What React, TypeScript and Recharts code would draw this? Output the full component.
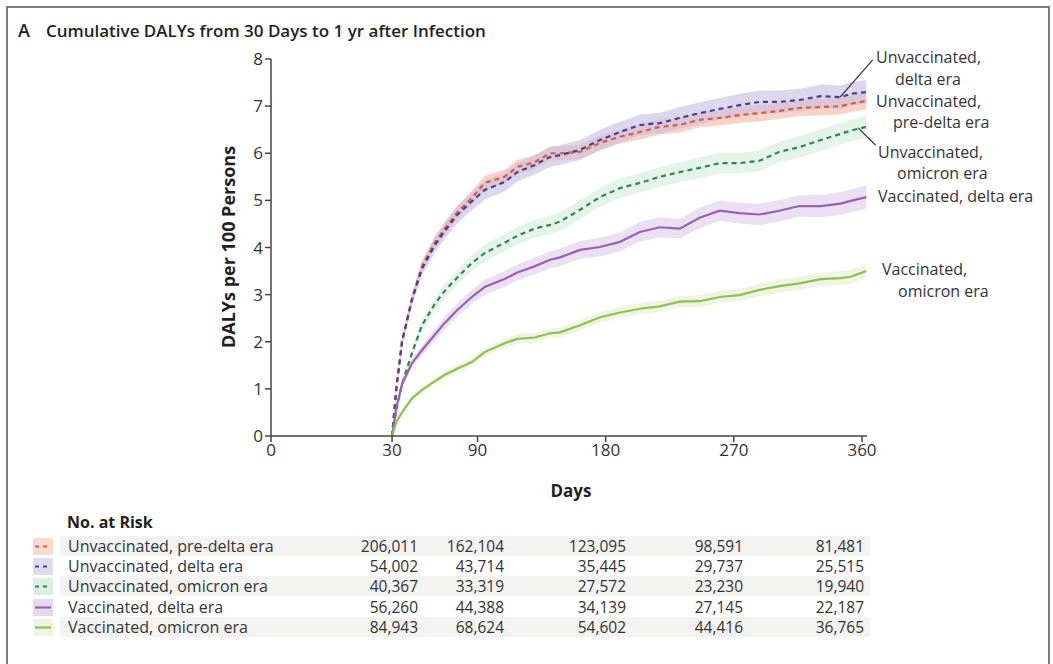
import { ComposedChart, Line, Area, XAxis, YAxis, ReferenceLine } from "recharts";

const DAYS = [30, 33, 37, 44, 51, 60, 67, 76, 86, 95, 109, 118, 130, 141, 148, 162, 176, 190, 204, 218, 232, 246, 260, 274, 288, 302, 316, 331, 345, 352, 363];

const UNVAX_PRE_DELTA = [0, 1.0, 2.0, 2.9, 3.6, 4.1, 4.4, 4.75, 5.05, 5.37, 5.5, 5.71, 5.81, 6.0, 6.0, 6.03, 6.22, 6.35, 6.45, 6.56, 6.6, 6.71, 6.75, 6.81, 6.85, 6.9, 6.96, 6.98, 7.0, 7.05, 7.11];
const UNVAX_PRE_DELTA_CI = [0, 0.05, 0.08, 0.1, 0.12, 0.13, 0.14, 0.14, 0.15, 0.15, 0.15, 0.15, 0.15, 0.15, 0.15, 0.15, 0.15, 0.15, 0.16, 0.16, 0.16, 0.16, 0.16, 0.17, 0.17, 0.17, 0.17, 0.18, 0.18, 0.18, 0.18];

const UNVAX_DELTA = [0, 1.0, 2.0, 2.9, 3.55, 4.05, 4.35, 4.7, 4.98, 5.22, 5.39, 5.6, 5.75, 5.92, 5.96, 6.07, 6.28, 6.45, 6.6, 6.64, 6.75, 6.85, 6.94, 7.02, 7.09, 7.09, 7.13, 7.21, 7.19, 7.26, 7.3];
const UNVAX_DELTA_CI = [0, 0.06, 0.1, 0.13, 0.15, 0.16, 0.17, 0.18, 0.19, 0.2, 0.2, 0.2, 0.2, 0.21, 0.21, 0.21, 0.22, 0.22, 0.22, 0.22, 0.23, 0.23, 0.23, 0.24, 0.24, 0.24, 0.24, 0.25, 0.25, 0.25, 0.25];

const UNVAX_OMICRON = [0, 0.55, 1.1, 1.76, 2.35, 2.8, 3.08, 3.37, 3.67, 3.88, 4.1, 4.25, 4.4, 4.48, 4.55, 4.8, 5.07, 5.26, 5.37, 5.5, 5.6, 5.69, 5.79, 5.79, 5.84, 6.03, 6.13, 6.28, 6.41, 6.48, 6.56];
const UNVAX_OMICRON_CI = [0, 0.05, 0.08, 0.1, 0.12, 0.14, 0.15, 0.16, 0.17, 0.18, 0.18, 0.19, 0.19, 0.2, 0.2, 0.2, 0.2, 0.21, 0.21, 0.21, 0.21, 0.22, 0.22, 0.22, 0.22, 0.22, 0.23, 0.23, 0.23, 0.23, 0.23];

const VAX_DELTA = [0, 0.6, 1.1, 1.55, 1.82, 2.15, 2.4, 2.68, 2.95, 3.16, 3.33, 3.47, 3.6, 3.74, 3.79, 3.95, 4.01, 4.12, 4.33, 4.43, 4.4, 4.63, 4.78, 4.73, 4.7, 4.78, 4.88, 4.88, 4.93, 4.99, 5.07];
const VAX_DELTA_CI = [0, 0.05, 0.07, 0.09, 0.1, 0.12, 0.13, 0.14, 0.15, 0.16, 0.17, 0.17, 0.18, 0.18, 0.19, 0.19, 0.2, 0.2, 0.21, 0.21, 0.21, 0.22, 0.22, 0.22, 0.23, 0.23, 0.23, 0.24, 0.24, 0.24, 0.25];

const VAX_OMICRON = [0, 0.3, 0.5, 0.8, 0.98, 1.16, 1.3, 1.43, 1.57, 1.78, 1.97, 2.06, 2.09, 2.18, 2.2, 2.35, 2.52, 2.62, 2.7, 2.75, 2.85, 2.86, 2.95, 2.99, 3.1, 3.18, 3.24, 3.33, 3.35, 3.38, 3.5];
const VAX_OMICRON_CI = [0, 0.03, 0.04, 0.05, 0.06, 0.07, 0.07, 0.08, 0.08, 0.09, 0.09, 0.1, 0.1, 0.1, 0.11, 0.11, 0.11, 0.12, 0.12, 0.12, 0.12, 0.13, 0.13, 0.13, 0.13, 0.14, 0.14, 0.14, 0.15, 0.15, 0.15];

const X_TICKS = [0, 30, 90, 180, 270, 360];
const Y_TICKS = [0, 1, 2, 3, 4, 5, 6, 7, 8];

const RISK_DAYS = [30, 90, 180, 270, 360];
const RISK_PRE_DELTA = ["206,011", "162,104", "123,095", "98,591", "81,481"];
const RISK_DELTA = ["54,002", "43,714", "35,445", "29,737", "25,515"];
const RISK_OMICRON = ["40,367", "33,319", "27,572", "23,230", "19,940"];
const RISK_VAX_DELTA = ["56,260", "44,388", "34,139", "27,145", "22,187"];
const RISK_VAX_OMICRON = ["84,943", "68,624", "54,602", "44,416", "36,765"];

const SERIES = [
  { key: "preDelta", name: "Unvaccinated, pre-delta era", values: UNVAX_PRE_DELTA, ci: UNVAX_PRE_DELTA_CI, risk: RISK_PRE_DELTA, color: "#de5a36", band: "#f3b7a2", swatch: "#fadbd0", dashed: true },
  { key: "delta", name: "Unvaccinated, delta era", values: UNVAX_DELTA, ci: UNVAX_DELTA_CI, risk: RISK_DELTA, color: "#4a3d95", band: "#c6bde3", swatch: "#e0dcf0", dashed: true },
  { key: "omicron", name: "Unvaccinated, omicron era", values: UNVAX_OMICRON, ci: UNVAX_OMICRON_CI, risk: RISK_OMICRON, color: "#2f8655", band: "#d3ecd8", swatch: "#ddefe1", dashed: true },
  { key: "vaxDelta", name: "Vaccinated, delta era", values: VAX_DELTA, ci: VAX_DELTA_CI, risk: RISK_VAX_DELTA, color: "#9a60b4", band: "#dccbea", swatch: "#e6d8f0", dashed: false },
  { key: "vaxOmicron", name: "Vaccinated, omicron era", values: VAX_OMICRON, ci: VAX_OMICRON_CI, risk: RISK_VAX_OMICRON, color: "#8cc24e", band: "#e3efd0", swatch: "#eef5e3", dashed: false },
];

// right-hand curve labels (text lines, x/y in page pixels)
const CURVE_LABELS = [
  { text: "Unvaccinated,", x: 876, y: 57 },
  { text: "delta era", x: 895, y: 79 },
  { text: "Unvaccinated,", x: 876, y: 101 },
  { text: "pre-delta era", x: 893, y: 122 },
  { text: "Unvaccinated,", x: 878, y: 152 },
  { text: "omicron era", x: 897, y: 173 },
  { text: "Vaccinated, delta era", x: 878, y: 196 },
  { text: "Vaccinated,", x: 882, y: 269 },
  { text: "omicron era", x: 898, y: 291 },
];

// 0 to 30 days is drawn on a compressed stretch of axis
const axisPos = (day: number) => (day >= 30 ? day : -55 + (day * 85) / 30);

const FONT = "'Open Sans', Lato, sans-serif";

const chartData = DAYS.map((day, i) => {
  const row: Record<string, any> = { pos: axisPos(day) };
  SERIES.forEach((s) => {
    row[s.key] = s.values[i];
    row[s.key + "Band"] = [s.values[i] - s.ci[i], s.values[i] + s.ci[i]];
  });
  return row;
});

function Swatch({ color, bg, dashed }: { color: string; bg: string; dashed: boolean }) {
  return (
    <svg width={20} height={17} style={{ position: "absolute", left: 33, top: -8 }}>
      <rect x={0} y={0} width={20} height={17} fill={bg} />
      <line x1={2} x2={18} y1={8.5} y2={8.5} stroke={color} strokeWidth={2.2} strokeDasharray={dashed ? "4 4" : undefined} />
    </svg>
  );
}

export default function App() {
  return (
    <div style={{ position: "fixed", left: 0, top: 0, width: 1053, height: 664, overflow: "hidden", background: "#fff", fontFamily: FONT, color: "#231f20" }}>
      <div style={{ position: "absolute", left: 6, top: 6, width: 1040, height: 700, border: "2px solid #7d7d7d" }} />

      <div style={{ position: "absolute", left: 18, top: 30, transform: "translateY(-50%)", fontSize: 17, fontWeight: 600, whiteSpace: "nowrap" }}>
        <span style={{ fontSize: 18, marginRight: 16 }}>A</span>
        <span>Cumulative DALYs from 30 Days to 1 yr after Infection</span>
      </div>

      <div style={{ position: "absolute", left: 0, top: 0 }}>
        <ComposedChart width={1053} height={500} data={chartData} margin={{ top: 59, right: 186, bottom: 34, left: 211 }}>
          <XAxis
            type="number"
            dataKey="pos"
            domain={[axisPos(0), 363.5]}
            ticks={X_TICKS.map(axisPos)}
            tickFormatter={(v: number) => String(X_TICKS.find((d) => Math.abs(axisPos(d) - v) < 0.01) ?? v)}
            height={30}
            tickSize={6}
            tick={{ fontSize: 17, fill: "#333", fontFamily: FONT }}
            axisLine={{ stroke: "#444", strokeWidth: 1.5 }}
            tickLine={{ stroke: "#444", strokeWidth: 1.5 }}
            allowDataOverflow
          />
          <YAxis
            type="number"
            domain={[0, 8]}
            ticks={Y_TICKS}
            width={60}
            tickSize={6}
            tick={{ fontSize: 17, fill: "#333", fontFamily: FONT }}
            axisLine={{ stroke: "#444", strokeWidth: 1.5 }}
            tickLine={{ stroke: "#444", strokeWidth: 1.5 }}
          />
          {SERIES.map((s) => (
            <Area
              key={s.key + "Band"}
              type="linear"
              dataKey={s.key + "Band"}
              stroke="none"
              fill={s.band}
              fillOpacity={0.6}
              isAnimationActive={false}
              activeDot={false}
            />
          ))}
          {SERIES.map((s) => (
            <Line
              key={s.key}
              type="linear"
              dataKey={s.key}
              stroke={s.color}
              strokeWidth={2.2}
              strokeDasharray={s.dashed ? "5 4" : undefined}
              dot={false}
              activeDot={false}
              isAnimationActive={false}
            />
          ))}
          <ReferenceLine segment={[{ x: 367.5, y: 7.98 }, { x: 344.6, y: 7.19 }]} stroke="#333" strokeWidth={1.2} ifOverflow="visible" />
          <ReferenceLine segment={[{ x: 357.2, y: 6.54 }, { x: 369.6, y: 6.17 }]} stroke="#333" strokeWidth={1.2} ifOverflow="visible" />
        </ComposedChart>
      </div>

      <div style={{ position: "absolute", left: 228, top: 247, transform: "translate(-50%, -50%) rotate(-90deg)", fontSize: 18, fontWeight: 700, whiteSpace: "nowrap" }}>
        DALYs per 100 Persons
      </div>
      <div style={{ position: "absolute", left: 571, top: 490, transform: "translate(-50%, -50%)", fontSize: 17, fontWeight: 700 }}>Days</div>

      {CURVE_LABELS.map((l, i) => (
        <div key={i} style={{ position: "absolute", left: l.x, top: l.y, transform: "translateY(-50%)", fontSize: 16, color: "#333", whiteSpace: "nowrap" }}>
          {l.text}
        </div>
      ))}

      <div style={{ position: "absolute", left: 67, top: 522, transform: "translateY(-50%)", fontSize: 16, fontWeight: 700 }}>No. at Risk</div>
      {SERIES.map((s, r) => {
        const cy = 546 + r * 20.2;
        const rightEdges = [418, 504, 626, 743, 864];
        return (
          <div key={s.key} style={{ position: "absolute", left: 0, top: cy, width: 1053, height: 0 }}>
            {r % 2 === 0 && <div style={{ position: "absolute", left: 60, top: -10, width: 810, height: 20, background: "#f3f4f2" }} />}
            <Swatch color={s.color} bg={s.swatch} dashed={s.dashed} />
            <div style={{ position: "absolute", left: 68, top: 0, transform: "translateY(-50%)", fontSize: 16, color: "#333", whiteSpace: "nowrap" }}>{s.name}</div>
            {s.risk.map((n, c) => (
              <div key={RISK_DAYS[c]} style={{ position: "absolute", right: 1053 - rightEdges[c], top: 0, transform: "translateY(-50%)", fontSize: 15.5, color: "#333", whiteSpace: "nowrap" }}>
                {n}
              </div>
            ))}
          </div>
        );
      })}
    </div>
  );
}
